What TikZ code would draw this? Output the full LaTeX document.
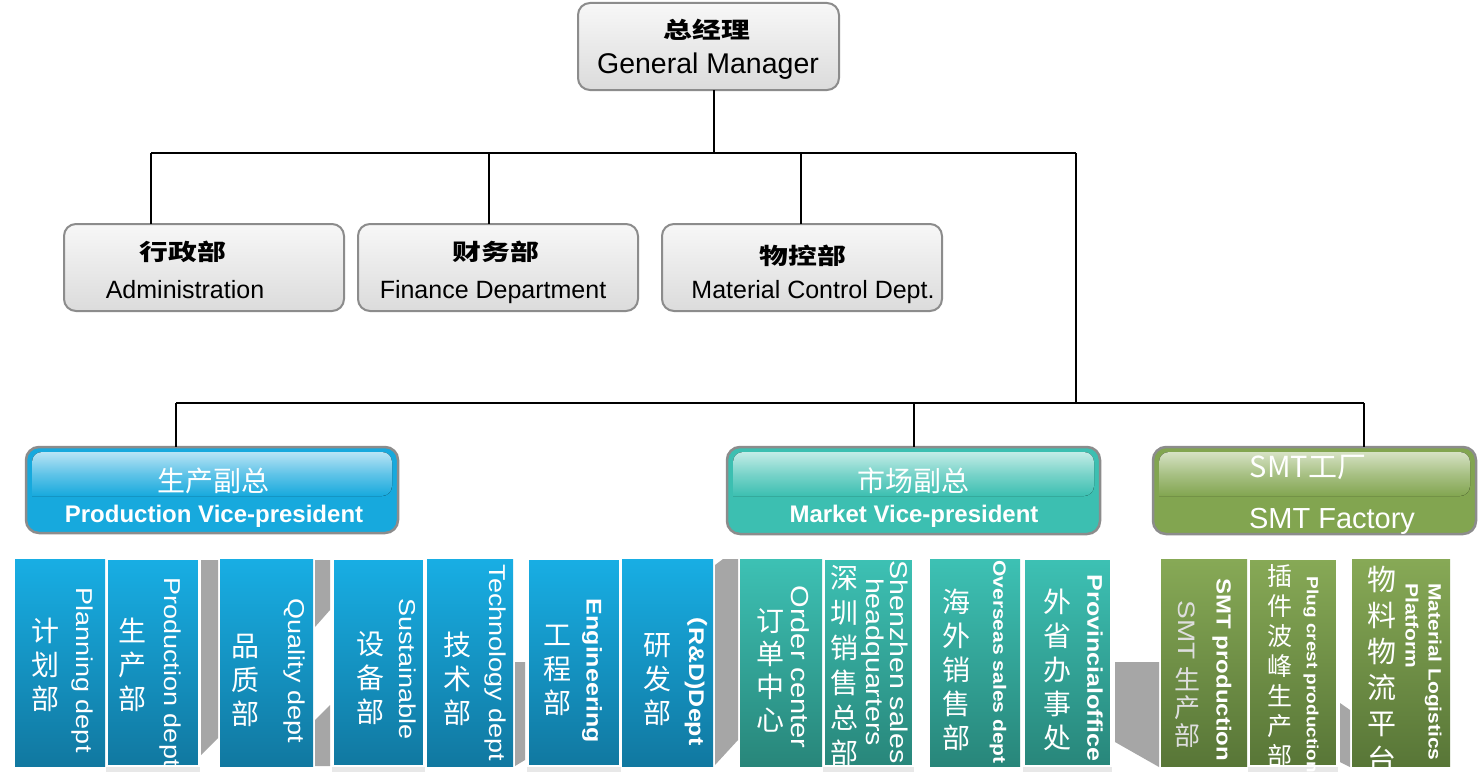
\documentclass[tikz,border=0pt]{standalone}
\usepackage{fontspec}
\setmainfont{Liberation Sans}
\newfontfamily\cjk{Noto Sans CJK SC}
\usetikzlibrary{shadows}
\definecolor{bluetop}{RGB}{24,174,228}
\definecolor{bluebot}{RGB}{17,120,160}
\definecolor{tealtop}{RGB}{61,193,180}
\definecolor{tealbot}{RGB}{40,134,122}
\definecolor{greentop}{RGB}{135,169,86}
\definecolor{greenbot}{RGB}{88,118,55}
\definecolor{bluebase}{RGB}{23,169,221}
\definecolor{bluegloss}{RGB}{184,228,245}
\definecolor{tealbase}{RGB}{60,191,177}
\definecolor{tealgloss}{RGB}{195,236,231}
\definecolor{greenbase}{RGB}{130,165,80}
\definecolor{greengloss}{RGB}{214,226,196}
\definecolor{boxborder}{RGB}{140,140,140}
\definecolor{conngray}{RGB}{166,166,166}
\definecolor{paletxt}{RGB}{222,222,222}
\newcommand\cnsz[2]{\cjk\fontsize{#1pt}{#2pt}\selectfont}
\newcommand\ensz[2]{\fontsize{#1pt}{#2pt}\selectfont}
\tikzset{
  topbox/.style={draw=boxborder, line width=2pt, rounded corners=12pt,
    top color=black!3, bottom color=black!14, inner sep=0pt, outer sep=0pt},
  vpbox/.style={draw=boxborder, line width=2.5pt, rounded corners=13pt,
    fill=#1base, inner sep=0pt, outer sep=0pt},
  gloss/.style={top color=#1gloss, bottom color=#1base, middle color=#1gloss!45!#1base},
  col/.style={top color=#1top, bottom color=#1bot, inner sep=0pt, outer sep=0pt,
    minimum height=207pt},
  bordered/.style={draw=white, line width=2.5pt,
    drop shadow={opacity=0.18, shadow xshift=0pt, shadow yshift=-4pt, shadow scale=1.02}},
  link/.style={line width=2pt, black},
  conn/.style={fill=conngray},
  en/.style={text=white, rotate=-90, yscale=0.85, inner sep=0pt},
  cn/.style={text=white, align=center, inner sep=0pt},
  toptxt/.style={text=black, inner sep=0pt},
}
\begin{document}
\begin{tikzpicture}[x=1pt, y=-1pt]
\useasboundingbox (0,0) rectangle (1478,784);
\fill[white] (0,0) rectangle (1478,784);

% ---------- connectors ----------
\coordinate (j1) at (714,153);
\coordinate (hl) at (151,153);
\coordinate (hr) at (1076,153);
\coordinate (fj) at (489,153);
\coordinate (mj) at (801,153);
\coordinate (j2) at (1076,403);
\coordinate (pl) at (176,403);
\coordinate (pr) at (1364,403);
\coordinate (mk) at (914,403);

% ---------- top boxes ----------
\node[topbox, minimum width=261pt, minimum height=87pt] (gm) at (708.5,46.5) {};
\node[toptxt, font=\cnsz{22.5}{24}\bfseries, xscale=1.28] (gmcn) at (707,30) {总经理};
\node[toptxt, anchor=base, font=\ensz{28.5}{30}] (gmen) at (708,74) {General Manager};

\node[topbox, minimum width=280pt, minimum height=87pt] (admin) at (204,267.5) {};
\node[toptxt, font=\cnsz{22.5}{24}\bfseries, xscale=1.28] (admincn) at (183,252) {行政部};
\node[toptxt, anchor=base, font=\ensz{25}{27}] (adminen) at (185,298) {Administration};

\node[topbox, minimum width=280pt, minimum height=87pt] (fin) at (498,267.5) {};
\node[toptxt, font=\cnsz{22.5}{24}\bfseries, xscale=1.28] (fincn) at (496,252) {财务部};
\node[toptxt, anchor=base, font=\ensz{25}{27}] (finen) at (493,298) {Finance Department};

\node[topbox, minimum width=280pt, minimum height=87pt] (mat) at (802,267.5) {};
\node[toptxt, font=\cnsz{22.5}{24}\bfseries, xscale=1.28] (matcn) at (803,256) {物控部};
\node[toptxt, anchor=base, font=\ensz{25}{27}] (maten) at (813,298) {Material Control Dept.};

\draw[link] (j1 |- gm.south) -- (j1);
\draw[link] (hl) -- (hr);
\draw[link] (hl) -- (hl |- admin.north);
\draw[link] (fj) -- (fj |- fin.north);
\draw[link] (mj) -- (mj |- mat.north);
\draw[link] (hr) -- (j2);
\draw[link] (pl) -- (pr);

% ---------- vice presidents ----------
\node[vpbox=blue, minimum width=372pt, minimum height=86pt] (pvp) at (212,490) {};
\fill[gloss=blue, rounded corners=10pt] (32,452) -- (392,452) -- (392,496) [sharp corners] -- (32,496) [rounded corners=10pt] -- cycle;
\node[cn, font=\cnsz{28}{30}] (pvpcn) at (213,481) {生产副总};
\node[cn, anchor=base, font=\ensz{24}{26}\bfseries] (pvpen) at (214,522) {Production Vice-president};

\node[vpbox=teal, minimum width=373pt, minimum height=87pt] (mvp) at (913.5,490.5) {};
\fill[gloss=teal, rounded corners=10pt] (733,452) -- (1094,452) -- (1094,496) [sharp corners] -- (733,496) [rounded corners=10pt] -- cycle;
\node[cn, font=\cnsz{28}{30}] (mvpcn) at (913,481) {市场副总};
\node[cn, anchor=base, font=\ensz{24}{26}\bfseries] (mvpen) at (914,522) {Market Vice-president};

\node[vpbox=green, minimum width=323pt, minimum height=87pt] (smt) at (1314.5,490.5) {};
\fill[gloss=green, rounded corners=10pt] (1159,452) -- (1470,452) -- (1470,496) [sharp corners] -- (1159,496) [rounded corners=10pt] -- cycle;
\node[cn, anchor=base, font=\cnsz{29}{30}] (smtcn) at (1308,477) {SMT工厂};
\node[cn, anchor=base, font=\ensz{29}{30}] (smten) at (1332,528) {SMT Factory};

\draw[link] (pl) -- (pl |- pvp.north);
\draw[link] (mk) -- (mk |- mvp.north);
\draw[link] (pr) -- (pr |- smt.north);

% ---------- grey links between columns ----------
\fill[conn] (201,560) -- (218,560) -- (218,738) -- (201,755) -- cycle;
\fill[conn] (315,560) -- (330,560) -- (330,610) -- (315,627) -- cycle;
\fill[conn] (315,720) -- (330,705) -- (330,766) -- (315,766) -- cycle;
\fill[conn] (515,662) -- (525,662) -- (525,760) -- (515,766) -- cycle;
\fill[conn] (715,565) -- (723,559) -- (738,559) -- (738,740) -- (715,765) -- cycle;
\fill[conn] (1115,662) -- (1159,662) -- (1159,767) -- (1115,742) -- cycle;
\fill[conn] (1340,703) -- (1350,710) -- (1350,767) -- (1340,762) -- cycle;

% ---------- columns (plain first, bordered on top) ----------
\node[col=blue, minimum width=90pt] (c1) at (60,662.5) {};
\node[col=blue, minimum width=93pt] (c3) at (266.5,662.5) {};
\node[col=blue, minimum width=86pt] (c5) at (470,662.5) {};
\node[col=blue, minimum width=91pt] (c7) at (667.5,662.5) {};
\node[col=teal, minimum width=82pt] (c8) at (781,662.5) {};
\node[col=teal, minimum width=90pt] (c10) at (975,662.5) {};
\node[col=green, minimum width=86pt] (c12) at (1204,662.5) {};
\node[col=green, minimum width=98pt] (c14) at (1401,662.5) {};

\node[col=blue, bordered, minimum width=92pt] (c2) at (153,662.5) {};
\node[col=blue, bordered, minimum width=91pt] (c4) at (378.5,662.5) {};
\node[col=blue, bordered, minimum width=92pt] (c6) at (574,662.5) {};
\node[col=teal, bordered, minimum width=89pt] (c9) at (868.5,662.5) {};
\node[col=teal, bordered, minimum width=87pt] (c11) at (1067.5,662.5) {};
\node[col=green, bordered, minimum width=88pt] (c13) at (1293,662.5) {};

% ---------- column texts ----------
\node[cn, font=\cnsz{28}{34}] (t1c) at (45,665) {计\\划\\部};
\node[en, font=\ensz{27}{29}] (t1e) at (82,670) {Planning dept};

\node[cn, font=\cnsz{28}{34}] (t2c) at (132,665) {生\\产\\部};
\node[en, font=\ensz{27}{29}] (t2e) at (170,672) {Production dept};

\node[cn, font=\cnsz{28}{34}] (t3c) at (245,680) {品\\质\\部};
\node[en, font=\ensz{27}{29}] (t3e) at (294,671) {Quality dept};

\node[cn, font=\cnsz{28}{34}] (t4c) at (370,678) {设\\备\\部};
\node[en, font=\ensz{27}{29}] (t4e) at (408,669) {Sustainable};

\node[cn, font=\cnsz{28}{34}] (t5c) at (457,679) {技\\术\\部};
\node[en, font=\ensz{27}{29}] (t5e) at (495,663) {Technology dept};

\node[cn, font=\cnsz{28}{34}] (t6c) at (557,670) {工\\程\\部};
\node[en, font=\ensz{25}{27}\bfseries] (t6e) at (592,671) {Engineering};

\node[cn, font=\cnsz{28}{34}] (t7c) at (657,680) {研\\发\\部};
\node[en, font=\ensz{25}{27}\bfseries] (t7e) at (696,674) {{\cjk （}R\&D)Dept};

\node[cn, font=\cnsz{28}{33}] (t8c) at (770,670) {订\\单\\中\\心};
\node[en, font=\ensz{29}{31}] (t8e) at (800,667) {Order center};

\node[cn, font=\cnsz{28}{35}] (t9c) at (844,665) {深\\圳\\销\\售\\总\\部};
\node[en, align=center, font=\ensz{28.5}{28}] (t9e) at (885,662) {Shenzhen sales\\headquarters};

\node[cn, font=\cnsz{28}{34}] (t10c) at (956,670) {海\\外\\销\\售\\部};
\node[en, font=\ensz{21}{23}\bfseries] (t10e) at (998,662) {Overseas sales dept};

\node[cn, font=\cnsz{28}{34}] (t11c) at (1057,670) {外\\省\\办\\事\\处};
\node[en, font=\ensz{25}{27}\bfseries] (t11e) at (1095,668) {Provincialoffice};

\node[en, text=paletxt, font=\ensz{28}{30}] (t12s) at (1187,630) {SMT};
\node[cn, text=paletxt, font=\cnsz{26}{28}] (t12c) at (1187,708) {生\\产\\部};
\node[en, font=\ensz{24}{26}\bfseries] (t12e) at (1222,670) {SMT production};

\node[cn, font=\cnsz{25}{30}] (t13c) at (1280,666) {插\\件\\波\\峰\\生\\产\\部};
\node[en, font=\ensz{19}{21}\bfseries] (t13e) at (1311,675) {Plug crest production};

\node[cn, font=\cnsz{29}{36}] (t14c) at (1382,669) {物\\料\\物\\流\\平\\台};
\node[en, align=left, anchor=west, font=\ensz{21}{27}\bfseries] (t14e) at (1423.5,583) {Material Logistics\\Platform};
\end{tikzpicture}
\end{document}
